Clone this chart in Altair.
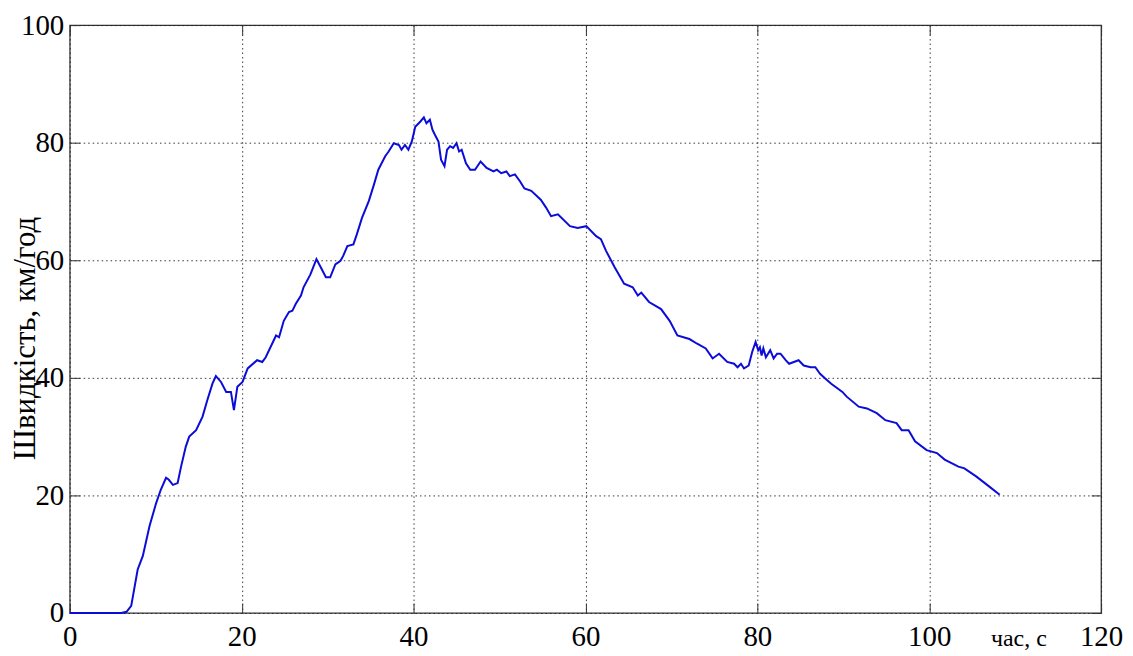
import altair as alt
import pandas as pd

# time, s
time_s = [0, 6.0, 6.6, 7.15, 7.9, 8.5, 9.28, 10.05, 10.6, 11.2, 11.5, 12.0, 12.55, 12.95,
          13.5, 13.9, 14.7, 15.45, 16.0, 16.6, 17.0, 17.6, 18.2, 18.75, 19.1, 19.5, 20.1,
          20.7, 21.8, 22.4, 22.8, 24.0, 24.35, 24.9, 25.5, 25.9, 26.3, 26.9, 27.2, 28.0,
          28.7, 29.2, 29.8, 30.3, 30.9, 31.5, 31.8, 32.3, 33.0, 33.4, 34.0, 34.8, 35.4,
          35.9, 36.7, 37.1, 37.7, 38.3, 38.6, 39.0, 39.4, 39.8, 40.2, 40.8, 41.2, 41.5,
          41.9, 42.2, 42.5, 42.9, 43.2, 43.6, 43.9, 44.25, 44.6, 45.0, 45.3, 45.6, 46.1,
          46.6, 47.15, 47.8, 48.5, 49.3, 49.7, 50.2, 50.8, 51.2, 51.8, 52.4, 52.9, 53.7,
          54.8, 55.4, 56.0, 56.8, 58.2, 59.1, 60.1, 61.25, 61.8, 62.4, 63.4, 64.5, 65.5,
          66.1, 66.5, 67.4, 68.8, 69.8, 70.7, 72.1, 73.0, 74.0, 74.8, 75.55, 76.5, 77.3,
          77.7, 78.1, 78.45, 79.0, 79.4, 79.8, 80.1, 80.3, 80.5, 80.7, 81.0, 81.5, 81.9,
          82.3, 82.7, 83.3, 83.7, 84.25, 84.8, 85.4, 86.2, 86.75, 87.3, 87.9, 88.6, 89.9,
          90.4, 91.8, 92.75, 93.9, 94.9, 96.2, 96.8, 97.6, 98.35, 99.7, 100.9, 101.8,
          103.4, 104.1, 105.5, 107.0, 108.2]

# speed, km/h
speed_kmh = [0, 0, 0.2, 1.2, 7.4, 9.7, 14.8, 18.7, 21.0, 23.0, 22.7, 21.8, 22.1, 24.9,
             28.3, 30.0, 31.1, 33.4, 36.2, 39.0, 40.3, 39.3, 37.6, 37.6, 34.5, 38.5, 39.3,
             41.6, 43.0, 42.7, 43.5, 47.2, 46.9, 49.7, 51.2, 51.4, 52.6, 54.0, 55.4, 57.6,
             60.2, 58.8, 57.1, 57.1, 59.3, 59.9, 60.7, 62.4, 62.7, 64.4, 67.2, 70.1, 72.9,
             75.4, 77.7, 78.5, 79.9, 79.6, 78.8, 79.6, 78.8, 80.2, 82.7, 83.6, 84.3, 83.3,
             83.9, 82.2, 81.3, 80.2, 77.1, 76.0, 78.8, 79.4, 79.1, 79.9, 78.5, 78.8, 76.5,
             75.4, 75.4, 76.8, 75.7, 75.1, 75.4, 74.8, 75.1, 74.3, 74.6, 73.4, 72.2, 71.8,
             70.3, 69.0, 67.5, 67.8, 65.8, 65.5, 65.8, 64.1, 63.6, 61.6, 58.8, 56.0, 55.4,
             54.0, 54.5, 52.9, 51.7, 49.7, 47.2, 46.6, 45.8, 45.0, 43.3, 44.1, 42.7, 42.4,
             41.8, 42.4, 41.6, 42.1, 44.4, 46.1, 44.7, 45.2, 43.8, 45.0, 43.5, 44.7, 43.3,
             44.1, 44.1, 43.0, 42.4, 42.7, 43.0, 42.1, 41.8, 41.8, 40.7, 39.9, 39.0, 37.6,
             36.8, 35.1, 34.8, 34.0, 32.8, 32.3, 31.1, 31.1, 29.2, 27.7, 27.2, 26.1,
             24.9, 24.6, 23.2, 21.5, 20.1]

x_ticks = [0, 20, 40, 60, 80, 100, 120]
y_ticks = [0, 20, 40, 60, 80, 100]

x_title = "час, с"
y_title = "Швидкість, км/год"

df = pd.DataFrame({"t": time_s, "v": speed_kmh})

FONT = "Liberation Serif"
FS = 29

xs = alt.Scale(domain=[0, 120], nice=False, zero=False)
ys = alt.Scale(domain=[0, 100], nice=False, zero=False)

grid_style = dict(grid=True, gridDash=[1.5, 3], gridColor="#222222", gridWidth=1, gridOpacity=0.9)

main = alt.Chart(df).mark_line(color="#0c0cd8", strokeWidth=2).encode(
    x=alt.X("t:Q", scale=xs, axis=alt.Axis(
        orient="bottom", values=x_ticks, ticks=False, tickSize=0, domain=False,
        labelFont=FONT, labelFontSize=FS, labelColor="black", labelBaseline="alphabetic",
        labelPadding=33, labelFlush=False, labelOverlap=False,
        title=x_title, titleFont=FONT, titleFontSize=24, titleFontWeight="normal",
        titleColor="black", titleX=952, titleY=33, titleBaseline="alphabetic",
        titleAlign="center", **grid_style)),
    y=alt.Y("v:Q", scale=ys, axis=alt.Axis(
        orient="left", values=y_ticks, ticks=False, tickSize=0, domain=False,
        labelFont=FONT, labelFontSize=FS, labelColor="black", labelAlign="right",
        labelBaseline="middle", labelPadding=6, labelFlush=False, labelOverlap=False,
        title=y_title, titleFont=FONT, titleFontSize=31, titleFontWeight="normal",
        titleColor="black", titleX=-35, titleY=314, titleAngle=-90,
        titleBaseline="alphabetic", titleAlign="center", **grid_style)),
)

tick_style = dict(labels=False, grid=False, domain=False, ticks=True, tickSize=10,
                  tickColor="#333333", tickWidth=1, offset=-10, title="")

inner_bl = alt.Chart(df).mark_line(opacity=0).encode(
    x=alt.X("t:Q", scale=xs, axis=alt.Axis(orient="bottom", values=x_ticks, **tick_style)),
    y=alt.Y("v:Q", scale=ys, axis=alt.Axis(orient="left", values=y_ticks, **tick_style)),
)

inner_tr = alt.Chart(df).mark_line(opacity=0).encode(
    x=alt.X("t:Q", scale=xs, axis=alt.Axis(orient="top", values=x_ticks, **tick_style)),
    y=alt.Y("v:Q", scale=ys, axis=alt.Axis(orient="right", values=y_ticks, **tick_style)),
)

chart = alt.layer(inner_bl, inner_tr, main).resolve_axis(
    x="independent", y="independent"
).properties(
    width=1035, height=590,
    autosize=alt.AutoSizeParams(type="none"),
    padding={"left": 62, "top": 16, "right": 24, "bottom": 42},
    background="white",
).configure_view(stroke="#333333", strokeWidth=1.3)

chart.save("out.html", embed_options={"renderer": "svg", "actions": False})
